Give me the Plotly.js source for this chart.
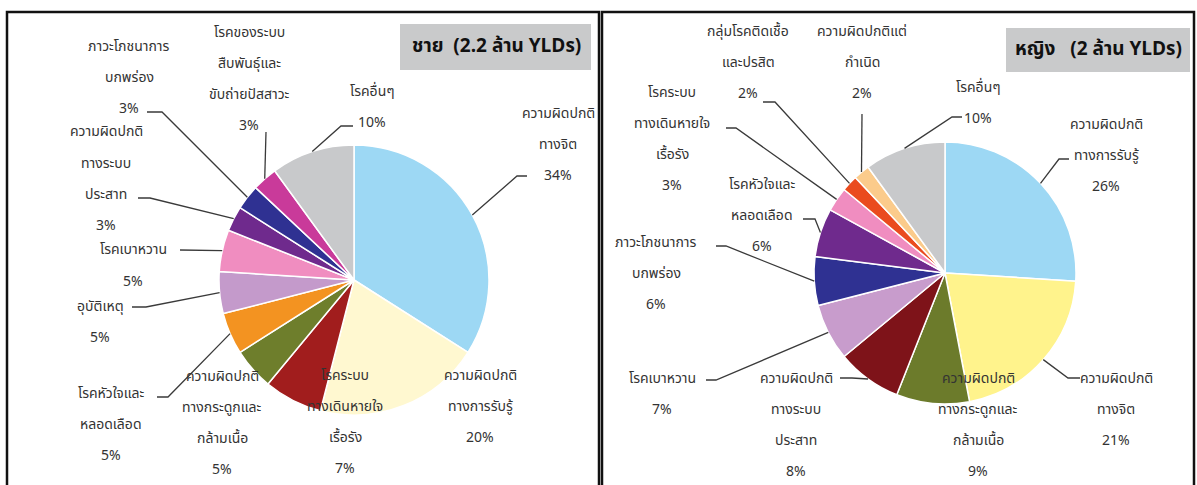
<!DOCTYPE html>
<html>
<head>
<meta charset="utf-8">
<script src="https://cdn.plot.ly/plotly-3.0.1.min.js"></script>
<style>
  body { margin: 0; background: #fff; }
  #chart { width: 1197px; height: 485px; }
</style>
</head>
<body>
<div id="chart"></div>
<script>
// ---- data ----
var maleLabels = ['ความผิดปกติ<br>ทางจิต', 'ความผิดปกติ<br>ทางการรับรู้', 'โรคระบบ<br>ทางเดินหายใจ<br>เรื้อรัง',
    'ความผิดปกติ<br>ทางกระดูกและ<br>กล้ามเนื้อ', 'โรคหัวใจและ<br>หลอดเลือด', 'อุบัติเหตุ', 'โรคเบาหวาน',
    'ความผิดปกติ<br>ทางระบบ<br>ประสาท', 'ภาวะโภชนาการ<br>บกพร่อง', 'โรคของระบบ<br>สืบพันธุ์และ<br>ขับถ่ายปัสสาวะ', 'โรคอื่นๆ'];
var maleValues = [34, 20, 7, 5, 5, 5, 5, 3, 3, 3, 10];
var maleColors = ['#9DD8F4', '#FFF8D0', '#A11D1D', '#6E7E2C', '#F39321', '#C49ACB', '#F08DC0',
    '#6F2A8D', '#2F3192', '#C93A9A', '#C8C9CB'];

var femaleLabels = ['ความผิดปกติ<br>ทางการรับรู้', 'ความผิดปกติ<br>ทางจิต', 'ความผิดปกติ<br>ทางกระดูกและ<br>กล้ามเนื้อ',
    'ความผิดปกติ<br>ทางระบบ<br>ประสาท', 'โรคเบาหวาน', 'ภาวะโภชนาการ<br>บกพร่อง', 'โรคหัวใจและ<br>หลอดเลือด',
    'โรคระบบ<br>ทางเดินหายใจ<br>เรื้อรัง', 'กลุ่มโรคติดเชื้อ<br>และปรสิต', 'ความผิดปกติแต่<br>กำเนิด', 'โรคอื่นๆ'];
var femaleValues = [26, 21, 9, 8, 7, 6, 6, 3, 2, 2, 10];
var femaleColors = ['#9DD8F4', '#FFF38C', '#6C7B2B', '#7E1319', '#C89CCC', '#2F3192', '#6F2A8D',
    '#F08DC0', '#EA4B1E', '#FBCB8B', '#C8C9CB'];

var maleTitle = 'ชาย  (2.2 ล้าน YLDs)';
var femaleTitle = 'หญิง   (2 ล้าน YLDs)';

// ---- label placement (pixels): first line centre, leader start + tick ----
var W = 1197, H = 485, GAP = 31;
var malePie = { cx: 354, cy: 280, r: 135 };
var femalePie = { cx: 945, cy: 273, r: 131 };

var maleLabelPos = [
    { x: 558, y: 113, lead: [527, 176, -10] },
    { x: 480, y: 375 },
    { x: 345, y: 375 },
    { x: 222, y: 376 },
    { x: 111, y: 393, lead: [157, 397, 11] },
    { x: 100, y: 306, lead: [132, 307, 14] },
    { x: 133, y: 250, lead: [180, 250, 0] },
    { x: 106, y: 132, lead: [138, 198, 12] },
    { x: 129, y: 47, lead: [147, 112, 15] },
    { x: 249, y: 33, lead: [266, 132, 0] },
    { x: 372, y: 91, lead: [353, 126, -12] }
];
var femaleLabelPos = [
    { x: 1106, y: 125, lead: [1069, 159, -10] },
    { x: 1116, y: 378, lead: [1080, 378, -12] },
    { x: 978, y: 378 },
    { x: 796, y: 378, lead: [840, 378, 12] },
    { x: 662, y: 378, lead: [706, 380, 10] },
    { x: 656, y: 242, lead: [716, 246, 10] },
    { x: 762, y: 184, lead: [803, 219, 12] },
    { x: 672, y: 92, lead: [726, 128, 10] },
    { x: 748, y: 32, lead: [763, 102, 12] },
    { x: 862, y: 32, lead: [862, 114, 0] },
    { x: 978, y: 87, lead: [962, 117, -10] }
];

function px(x) { return x / W; }
function py(y) { return 1 - y / H; }

function edgePoint(values, i, pie) {
    var total = values.reduce(function (a, b) { return a + b; }, 0);
    var before = 0;
    for (var k = 0; k < i; k++) before += values[k];
    var ang = (before + values[i] / 2) / total * 2 * Math.PI;
    return [pie.cx + pie.r * Math.sin(ang), pie.cy - pie.r * Math.cos(ang)];
}

var textFont = { family: 'Tahoma, "Noto Sans Thai", "Noto Sans", sans-serif', size: 14, color: '#333333' };
var annotations = [];
var shapes = [];

function addLabels(labels, values, pos, pie) {
    labels.forEach(function (lab, i) {
        var lines = lab.split('<br>').concat([values[i] + '%']);
        var p = pos[i];
        lines.forEach(function (t, j) {
            annotations.push({
                xref: 'paper', yref: 'paper', x: px(p.x), y: py(p.y + j * GAP),
                text: t, showarrow: false, xanchor: 'center', yanchor: 'middle', font: textFont
            });
        });
        if (p.lead) {
            var e = edgePoint(values, i, pie);
            var sx = p.lead[0], sy = p.lead[1], tx = sx + p.lead[2];
            shapes.push({
                type: 'path', xref: 'paper', yref: 'paper',
                path: 'M ' + px(sx) + ',' + py(sy) + ' L ' + px(tx) + ',' + py(sy) + ' L ' + px(e[0]) + ',' + py(e[1]),
                line: { color: '#3a3a3a', width: 1.3 }
            });
        }
    });
}

function domainOf(pie) {
    return {
        x: [px(pie.cx - pie.r), px(pie.cx + pie.r)],
        y: [py(pie.cy + pie.r), py(pie.cy - pie.r)]
    };
}

var traces = [
    {
        type: 'pie', labels: maleLabels, values: maleValues, sort: false, direction: 'clockwise', rotation: 0,
        marker: { colors: maleColors, line: { color: '#ffffff', width: 1.5 } },
        textinfo: 'none', hoverinfo: 'label+percent', domain: domainOf(malePie), showlegend: false
    },
    {
        type: 'pie', labels: femaleLabels, values: femaleValues, sort: false, direction: 'clockwise', rotation: 0,
        marker: { colors: femaleColors, line: { color: '#ffffff', width: 1.5 } },
        textinfo: 'none', hoverinfo: 'label+percent', domain: domainOf(femalePie), showlegend: false
    }
];

// panel frames
shapes.push({ type: 'rect', xref: 'paper', yref: 'paper', x0: px(7), x1: px(599), y0: py(500), y1: py(12),
    line: { color: '#111', width: 2.5 }, layer: 'below' });
shapes.push({ type: 'rect', xref: 'paper', yref: 'paper', x0: px(602), x1: px(1194), y0: py(500), y1: py(12),
    line: { color: '#111', width: 2.5 }, layer: 'below' });
// title boxes
shapes.push({ type: 'rect', xref: 'paper', yref: 'paper', x0: px(400), x1: px(591), y0: py(70), y1: py(24),
    fillcolor: '#C9CACB', line: { width: 0 }, layer: 'below' });
shapes.push({ type: 'rect', xref: 'paper', yref: 'paper', x0: px(1006), x1: px(1190), y0: py(72), y1: py(28),
    fillcolor: '#C9CACB', line: { width: 0 }, layer: 'below' });

var titleFont = { family: 'Tahoma, "Noto Sans Thai", "Noto Sans", sans-serif', size: 19, color: '#111' };
annotations.push({ xref: 'paper', yref: 'paper', x: px(496), y: py(47), text: '<b>' + maleTitle + '</b>',
    showarrow: false, xanchor: 'center', yanchor: 'middle', font: titleFont });
annotations.push({ xref: 'paper', yref: 'paper', x: px(1098), y: py(50), text: '<b>' + femaleTitle + '</b>',
    showarrow: false, xanchor: 'center', yanchor: 'middle', font: titleFont });

addLabels(maleLabels, maleValues, maleLabelPos, malePie);
addLabels(femaleLabels, femaleValues, femaleLabelPos, femalePie);

var layout = {
    width: W, height: H,
    margin: { l: 0, r: 0, t: 0, b: 0 },
    paper_bgcolor: '#ffffff',
    showlegend: false,
    shapes: shapes,
    annotations: annotations
};

Plotly.newPlot('chart', traces, layout, { displayModeBar: false, staticPlot: true });
</script>
</body>
</html>
